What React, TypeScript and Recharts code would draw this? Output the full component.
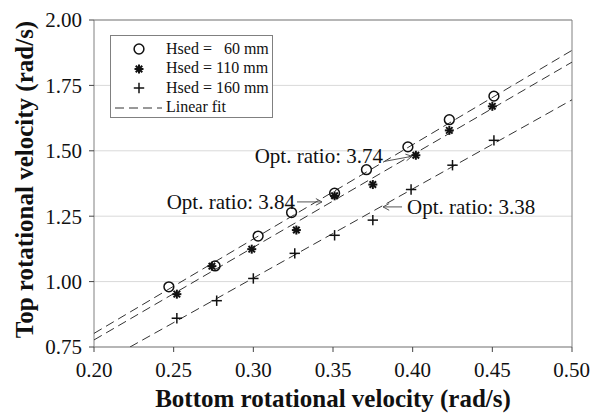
import React from 'react';
import {
  ScatterChart,
  Scatter,
  XAxis,
  YAxis,
  CartesianGrid,
  ReferenceLine,
  ReferenceDot,
} from 'recharts';

// Measured points (bottom velocity, top velocity), rad/s
const hsed60 = [
  { x: 0.247, y: 0.98 }, { x: 0.276, y: 1.06 }, { x: 0.303, y: 1.174 },
  { x: 0.324, y: 1.264 }, { x: 0.351, y: 1.338 }, { x: 0.371, y: 1.428 },
  { x: 0.397, y: 1.515 }, { x: 0.423, y: 1.619 }, { x: 0.451, y: 1.709 },
];
const hsed110 = [
  { x: 0.252, y: 0.952 }, { x: 0.274, y: 1.059 }, { x: 0.299, y: 1.124 },
  { x: 0.327, y: 1.197 }, { x: 0.351, y: 1.328 }, { x: 0.375, y: 1.371 },
  { x: 0.402, y: 1.483 }, { x: 0.423, y: 1.578 }, { x: 0.45, y: 1.67 },
];
const hsed160 = [
  { x: 0.252, y: 0.86 }, { x: 0.277, y: 0.927 }, { x: 0.3, y: 1.012 },
  { x: 0.326, y: 1.108 }, { x: 0.351, y: 1.177 }, { x: 0.375, y: 1.235 },
  { x: 0.399, y: 1.352 }, { x: 0.425, y: 1.445 }, { x: 0.451, y: 1.54 },
];

// Linear fit end points
const fit60 = [{ x: 0.2, y: 0.802 }, { x: 0.5, y: 1.884 }];
const fit110 = [{ x: 0.2, y: 0.777 }, { x: 0.5, y: 1.839 }];
const fit160 = [{ x: 0.2226, y: 0.75 }, { x: 0.5, y: 1.695 }];

// Arrow tips of the "Opt. ratio" notes
const notes = [
  { x: 0.3996, y: 1.479, text: 'Opt. ratio: 3.74', side: 'left', dx: -27, dy: 5 },
  { x: 0.3431, y: 1.3046, text: 'Opt. ratio: 3.84', side: 'left', dx: -25, dy: 0 },
  { x: 0.3814, y: 1.2855, text: 'Opt. ratio: 3.38', side: 'right', dx: 19, dy: 0 },
];

const xTicks = [0.2, 0.25, 0.3, 0.35, 0.4, 0.45, 0.5];
const yTicks = [0.75, 1.0, 1.25, 1.5, 1.75, 2.0];

const legendItems = [
  { label: 'Hsed =   60 mm', mark: 'circle' },
  { label: 'Hsed = 110 mm', mark: 'star' },
  { label: 'Hsed = 160 mm', mark: 'plus' },
  { label: 'Linear fit', mark: 'dash' },
];

const FONT = '"Liberation Serif", "Times New Roman", serif';
const INK = '#111';
const AXIS = '#808080';

function Mark({ kind, cx, cy }: { kind: string; cx: number; cy: number }) {
  if (kind === 'circle') {
    return <circle cx={cx} cy={cy} r={4.9} fill="none" stroke={INK} strokeWidth={1.5} />;
  }
  if (kind === 'star') {
    const a = 4.5;
    const d = a * 0.72;
    return (
      <g stroke={INK} strokeWidth={2}>
        <line x1={cx - a} y1={cy} x2={cx + a} y2={cy} />
        <line x1={cx} y1={cy - a} x2={cx} y2={cy + a} />
        <line x1={cx - d} y1={cy - d} x2={cx + d} y2={cy + d} />
        <line x1={cx - d} y1={cy + d} x2={cx + d} y2={cy - d} />
      </g>
    );
  }
  if (kind === 'plus') {
    const a = 5.2;
    return (
      <g stroke={INK} strokeWidth={1.5}>
        <line x1={cx - a} y1={cy} x2={cx + a} y2={cy} />
        <line x1={cx} y1={cy - a} x2={cx} y2={cy + a} />
      </g>
    );
  }
  return null;
}

const shapeOf = (kind: string) => (props: any) => (
  <Mark kind={kind} cx={props.cx} cy={props.cy} />
);

function Note(props: any) {
  const { cx, cy, note } = props;
  const tx = cx + note.dx;
  const ty = cy + note.dy;
  // arrowhead at the tip, pointing from tail to tip
  const ang = Math.atan2(cy - ty, cx - tx);
  const h = 7;
  const p1x = cx - h * Math.cos(ang - 0.5);
  const p1y = cy - h * Math.sin(ang - 0.5);
  const p2x = cx - h * Math.cos(ang + 0.5);
  const p2y = cy - h * Math.sin(ang + 0.5);
  const textX = note.side === 'left' ? tx - 2 : tx + 5;
  return (
    <g>
      <line x1={tx} y1={ty} x2={cx} y2={cy} stroke="#555" strokeWidth={1} />
      <polyline
        points={`${p1x},${p1y} ${cx},${cy} ${p2x},${p2y}`}
        fill="none"
        stroke="#555"
        strokeWidth={1}
      />
      <text
        x={textX}
        y={cy + 7}
        textAnchor={note.side === 'left' ? 'end' : 'start'}
        fontFamily={FONT}
        fontSize={21}
        fill={INK}
      >
        {note.text}
      </text>
    </g>
  );
}

function LegendBox() {
  return (
    <div
      style={{
        position: 'absolute',
        left: 110,
        top: 35,
        width: 163,
        height: 83,
        border: `1px solid ${AXIS}`,
        background: '#fff',
        fontFamily: FONT,
        fontSize: 16,
        color: INK,
        boxSizing: 'border-box',
        paddingTop: 3,
      }}
    >
      {legendItems.map((it) => (
        <div key={it.label} style={{ display: 'flex', alignItems: 'center', height: 19.5 }}>
          <svg width={55} height={19} style={{ flexShrink: 0 }}>
            {it.mark === 'dash' ? (
              <line x1={4} y1={10} x2={51} y2={10} stroke="#333" strokeWidth={1} strokeDasharray="9 5" />
            ) : (
              <Mark kind={it.mark} cx={28} cy={10} />
            )}
          </svg>
          <span style={{ whiteSpace: 'pre' }}>{it.label}</span>
        </div>
      ))}
    </div>
  );
}

export default function App() {
  const tickStyle = { fill: INK, fontSize: 21, fontFamily: FONT };
  const fitLine = { stroke: '#333', strokeWidth: 1, strokeDasharray: '9 5' };
  return (
    <div
      style={{
        position: 'absolute',
        left: 0,
        top: 0,
        width: 590,
        height: 413,
        background: '#fff',
        fontFamily: FONT,
      }}
    >
      <ScatterChart
        width={590}
        height={413}
        margin={{ top: 20, right: 18, bottom: 0, left: 0 }}
      >
        <CartesianGrid vertical={false} stroke="#d9d9d9" />
        <XAxis
          type="number"
          dataKey="x"
          domain={[0.2, 0.5]}
          ticks={xTicks}
          tickFormatter={(v: number) => v.toFixed(2)}
          tick={tickStyle}
          tickSize={5}
          tickMargin={10}
          height={66}
          axisLine={{ stroke: AXIS }}
          tickLine={{ stroke: '#444' }}
          allowDataOverflow
          label={{
            value: 'Bottom rotational velocity (rad/s)',
            position: 'insideBottom',
            offset: 6,
            fill: INK,
            fontSize: 25,
            fontWeight: 'bold',
            fontFamily: FONT,
          }}
        />
        <YAxis
          type="number"
          dataKey="y"
          domain={[0.75, 2.0]}
          ticks={yTicks}
          tickFormatter={(v: number) => v.toFixed(2)}
          tick={tickStyle}
          tickSize={5}
          tickMargin={7}
          width={94}
          axisLine={{ stroke: AXIS }}
          tickLine={{ stroke: '#444' }}
          allowDataOverflow
          label={{
            value: 'Top rotational velocity (rad/s)',
            angle: -90,
            position: 'insideLeft',
            offset: 24,
            dy: -4,
            fill: INK,
            fontSize: 25,
            fontWeight: 'bold',
            fontFamily: FONT,
            style: { textAnchor: 'middle' },
          }}
        />
        <ReferenceLine y={2.0} stroke={AXIS} />
        <ReferenceLine x={0.5} stroke={AXIS} />

        <Scatter data={fit60} line={fitLine} shape={() => <g />} isAnimationActive={false} legendType="none" />
        <Scatter data={fit110} line={fitLine} shape={() => <g />} isAnimationActive={false} legendType="none" />
        <Scatter data={fit160} line={fitLine} shape={() => <g />} isAnimationActive={false} legendType="none" />

        <Scatter data={hsed60} shape={shapeOf('circle')} isAnimationActive={false} />
        <Scatter data={hsed110} shape={shapeOf('star')} isAnimationActive={false} />
        <Scatter data={hsed160} shape={shapeOf('plus')} isAnimationActive={false} />

        {notes.map((n) => (
          <ReferenceDot
            key={n.text}
            x={n.x}
            y={n.y}
            r={0}
            shape={(p: any) => <Note {...p} note={n} />}
          />
        ))}
      </ScatterChart>
      <LegendBox />
    </div>
  );
}
